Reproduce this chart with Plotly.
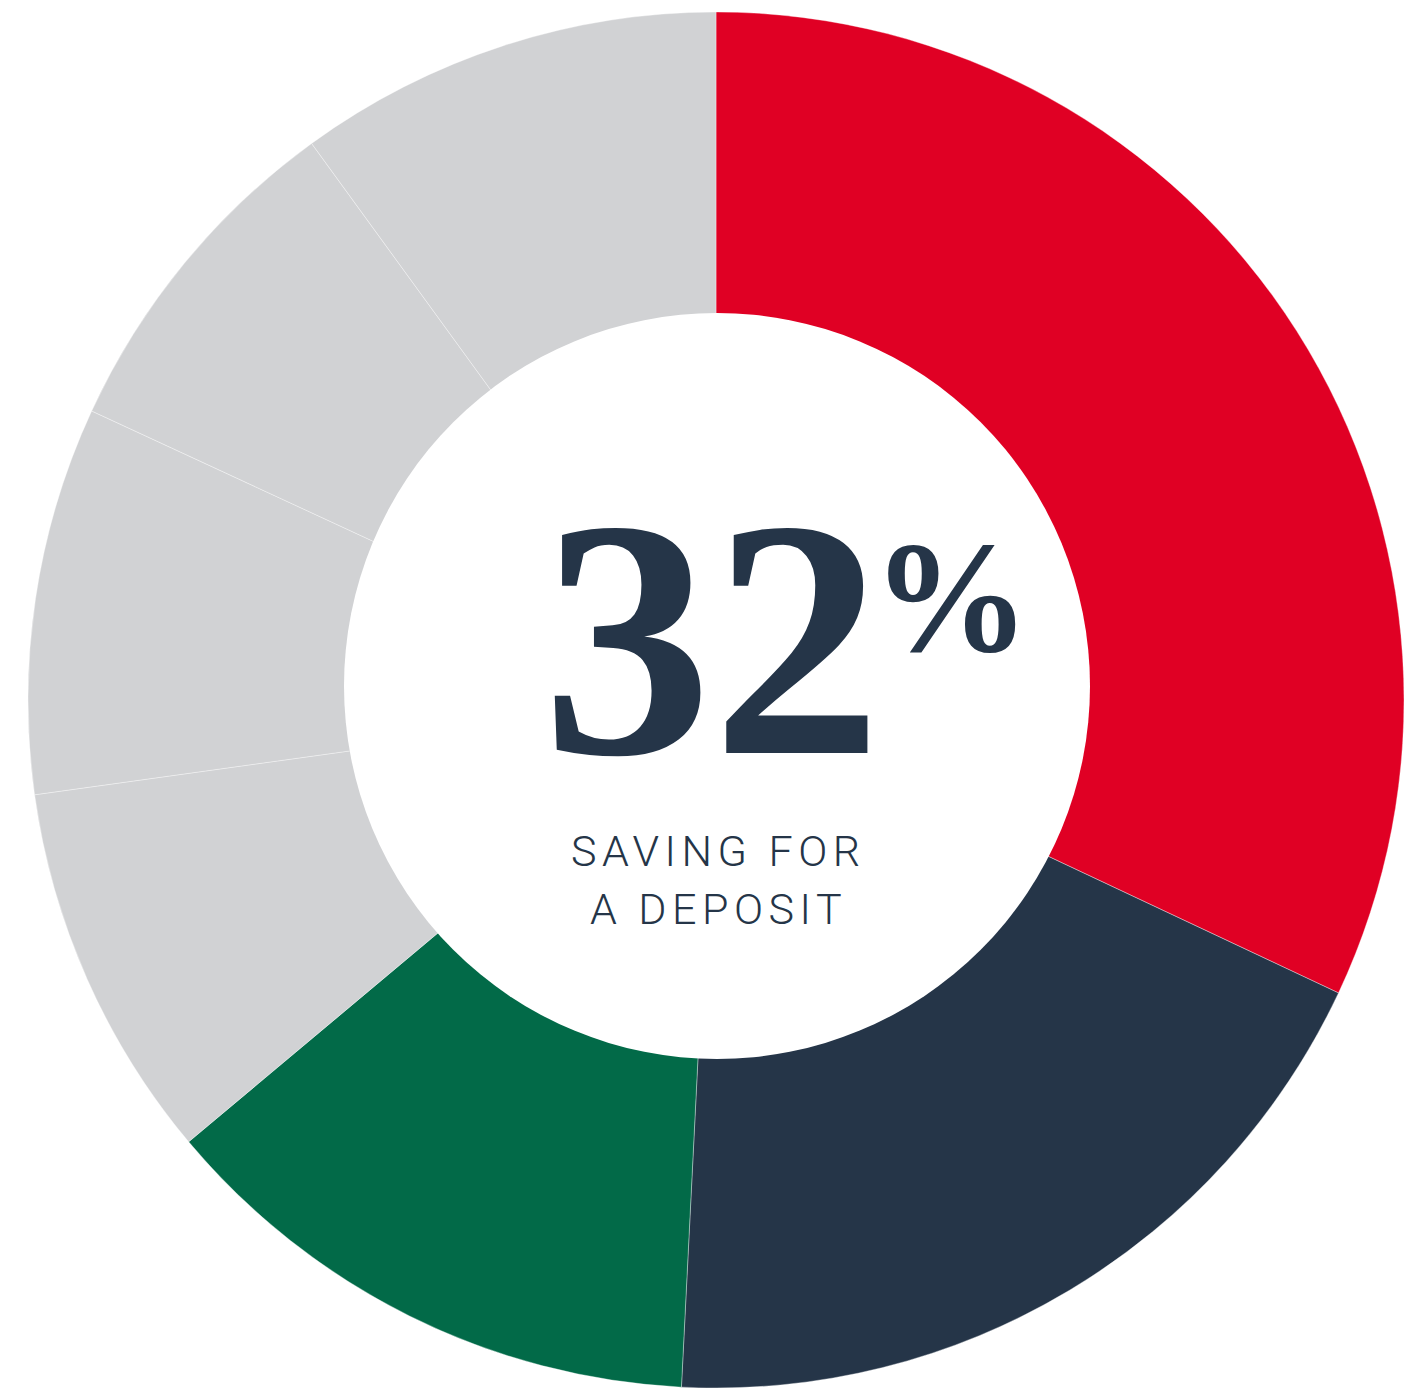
import plotly.graph_objects as go

labels = ["Saving for a deposit", "Segment 2", "Segment 3", "Segment 4", "Segment 5", "Segment 6", "Segment 7"]
values = [32, 18.8, 13.1, 8.9, 9.1, 8.1, 10.0]
colors = ["#E00024", "#253548", "#026A48", "#D1D2D4", "#D1D2D4", "#D1D2D4", "#D1D2D4"]

headline = "32"
headline_unit = "%"
caption_lines = ["SAVING FOR", "A DEPOSIT"]

W, H = 1404, 1395
cx, cy, r = 716, 700, 688
hx, hy, hr = 717, 686, 373

fig = go.Figure(go.Pie(
    labels=labels, values=values, sort=False, direction="clockwise", rotation=0,
    marker=dict(colors=colors, line=dict(color="rgba(255,255,255,0.35)", width=1)),
    textinfo="none", hoverinfo="label+percent", showlegend=False,
    domain=dict(x=[(cx - r) / W, min(1, (cx + r) / W)], y=[1 - (cy + r) / H, 1 - (cy - r) / H]),
))

fig.add_shape(type="circle", xref="paper", yref="paper",
              x0=(hx - hr) / W, x1=(hx + hr) / W, y0=1 - (hy + hr) / H, y1=1 - (hy - hr) / H,
              fillcolor="white", line=dict(width=0), layer="above")

fig.add_annotation(text=headline, xref="paper", yref="paper", x=712 / W, y=1 - 638.5 / H,
                   xanchor="center", yanchor="middle", showarrow=False,
                   font=dict(family="Liberation Serif", size=340, color="#253548", weight="bold"))
fig.add_annotation(text=headline_unit, xref="paper", yref="paper", x=951 / W, y=1 - 597 / H,
                   xanchor="center", yanchor="middle", showarrow=False,
                   font=dict(family="Liberation Serif", size=158, color="#253548", weight="bold"))
for i, line in enumerate(caption_lines):
    fig.add_annotation(text=f'<span style="letter-spacing:5.5px">{line}</span>',
                       xref="paper", yref="paper", x=718 / W, y=1 - (851 + 58.4 * i) / H,
                       xanchor="center", yanchor="middle", showarrow=False,
                       font=dict(family="Roboto", size=43, color="#253548", weight=300))

fig.update_layout(width=W, height=H, margin=dict(l=0, r=0, t=0, b=0),
                  paper_bgcolor="white", plot_bgcolor="white")

fig.write_html("out.html")
